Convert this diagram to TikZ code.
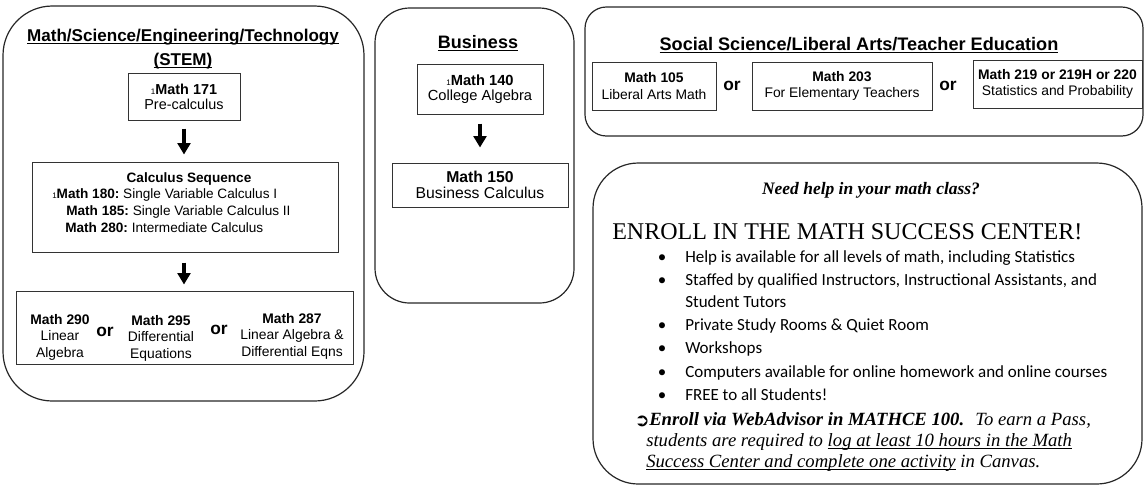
\documentclass[tikz,border=0pt]{standalone}
\usepackage{fontspec}
\setmainfont{Liberation Sans}
\newfontfamily\tnr{Liberation Serif}
\newfontfamily\calib{Carlito}
\newfontfamily\djv{DejaVu Sans}
\usetikzlibrary{arrows.meta}
\frenchspacing
\newcommand\fsz[2]{\fontsize{#1pt}{#2pt}\selectfont}
\newcommand\myul[1]{\setbox0\hbox{#1}\rlap{\rule[-2pt]{\wd0}{0.85pt}}\box0\relax}
\newcommand\myult[1]{\setbox0\hbox{#1}\rlap{\rule[-1.9pt]{\wd0}{0.6pt}}\box0\relax}
\newcommand\fnm{{\fsz{6}{6}1}}
\tikzset{
  panel/.style={draw=black!85, line width=0.9pt},
  cbox/.style={draw=black!80, line width=0.75pt, inner sep=0pt, align=center},
  bigarrow/.style={-{Triangle[length=8.5pt,width=9.5pt]}, line width=2.3pt, black},
  ortext/.style={font=\fsz{13}{13}\bfseries, inner sep=0pt},
  ttl/.style={font=\fsz{12.8}{15}\bfseries, inner sep=0pt, anchor=base},
  txt/.style={inner sep=0pt, anchor=base west},
  col/.style={inner sep=0pt, align=center, font=\fsz{10.4}{12.4}},
  bul/.style={inner sep=0pt, anchor=base, font=\calib\fsz{12.75}{14}},
  btxt/.style={inner sep=0pt, anchor=base west, font=\calib\fsz{12.75}{14}},
  par/.style={inner sep=0pt, anchor=base west, font=\tnr\fsz{14}{15}\itshape},
}
\begin{document}
\begin{tikzpicture}[x=0.75pt,y=-0.75pt]
\useasboundingbox (0,0) rectangle (1144,487);

% ---------- STEM panel ----------
\draw[panel, rounded corners=37pt] (3,6) rectangle (364,401);
\node[ttl] (stemA) at (183,41) {\myul{Math/Science/Engineering/Technology}};
\node[ttl] (stemB) at (183,65) {\myul{(STEM)}};
\node[cbox, minimum width=84pt, minimum height=35.25pt, font=\fsz{10.8}{11.25}] (m171) at (184,96.5) {\fnm\textbf{Math 171}\\Pre-calculus};
\node[cbox, minimum width=229.5pt, minimum height=67.5pt] (calc) at (185,207) {};
\node[inner sep=0pt, anchor=base, font=\fsz{10.2}{12}\bfseries] (cs) at (189,182) {Calculus Sequence};
\node[txt, font=\fsz{10.2}{12}] (c180) at (52,198) {\fnm\textbf{Math 180:} Single Variable Calculus I};
\node[txt, font=\fsz{10.2}{12}] (c185) at (66,215) {\textbf{Math 185:} Single Variable Calculus II};
\node[txt, font=\fsz{10.2}{12}] (c280) at (65,232) {\textbf{Math 280:} Intermediate Calculus};
\node[cbox, minimum width=252.75pt, minimum height=54.75pt] (adv) at (184.5,327.5) {};
\node[col] (c290) at (60,337) {\textbf{Math 290}\\Linear\\Algebra};
\node[ortext] (or1) at (105,332) {or};
\node[col] (c295) at (161,338) {\textbf{Math 295}\\Differential\\Equations};
\node[ortext] (or2) at (219,330) {or};
\node[col] (c287) at (292,336) {\textbf{Math 287}\\Linear Algebra \&\\Differential Eqns};
\draw[bigarrow, shorten <=6pt, shorten >=5.25pt] (m171.south) -- (m171.south |- calc.north);
\draw[bigarrow, shorten <=7.5pt, shorten >=4.5pt] (calc.south -| m171.south) -- (m171.south |- adv.north);

% ---------- Business panel ----------
\draw[panel, rounded corners=26pt] (375,8) rectangle (574,303);
\node[ttl, font=\fsz{13.5}{15}\bfseries] (bus) at (478,48) {\myul{Business}};
\node[cbox, minimum width=94.5pt, minimum height=37.5pt, font=\fsz{11}{11.25}] (m140) at (480,89) {\fnm\textbf{Math 140}\\College Algebra};
\node[cbox, minimum width=132pt, minimum height=33pt, font=\fsz{11.8}{11.5}] (m150) at (480,185) {\textbf{Math 150}\\Business Calculus};
\draw[bigarrow, shorten <=6.75pt, shorten >=11.25pt] (m140) -- (m150);

% ---------- Social Science panel ----------
\draw[panel, rounded corners=16pt] (585,7) rectangle (1143,136);
\node[ttl, font=\fsz{13.6}{15}\bfseries] (soc) at (859,50) {\myul{Social Science/Liberal Arts/Teacher Education}};
\node[cbox, minimum width=93pt, minimum height=36pt, font=\fsz{10.4}{12.6}] (m105) at (654,86) {\textbf{Math 105}\\Liberal Arts Math};
\node[ortext] (or3) at (732,86) {or};
\node[cbox, minimum width=135pt, minimum height=36pt, font=\fsz{10.4}{12.6}] (m203) at (842,86) {\textbf{Math 203}\\For Elementary Teachers};
\node[ortext] (or4) at (948,86) {or};
\node[cbox, minimum width=126.75pt, minimum height=36pt, font=\fsz{10.4}{12.6}] (m219) at (1057.5,84) {\textbf{Math 219 or 219H or 220}\\Statistics and Probability};

% ---------- Math Success Center panel ----------
\draw[panel, rounded corners=34pt] (593,163) rectangle (1142,484);
\node[inner sep=0pt, anchor=base, font=\tnr\fsz{13.1}{14}\bfseries\itshape] (need) at (871,194) {Need help in your math class?};
\node[inner sep=0pt, anchor=base west, font=\tnr\fsz{18}{20}] (enr) at (612,239) {ENROLL IN THE MATH SUCCESS CENTER!};
\node[bul] (b1) at (662,262) {•};
\node[btxt] (t1) at (685,262) {Help is available for all levels of math, including Statistics};
\node[bul] (b2) at (662,285) {•};
\node[btxt] (t2) at (685,285) {Staffed by qualified Instructors, Instructional Assistants, and};
\node[btxt] (t2b) at (685,307) {Student Tutors};
\node[bul] (b3) at (662,330) {•};
\node[btxt] (t3) at (685,330) {Private Study Rooms \& Quiet Room};
\node[bul] (b4) at (662,353) {•};
\node[btxt] (t4) at (685,353) {Workshops};
\node[bul] (b5) at (662,377) {•};
\node[btxt] (t5) at (685,377) {Computers available for online homework and online courses};
\node[bul] (b6) at (662,400) {•};
\node[btxt] (t6) at (685,400) {FREE to all Students!};
\node[inner sep=0pt, anchor=base east, font=\djv\bfseries\fsz{13.5}{14}] (arr) at (650,426) {➲};
\node[par] (p1) at (649,425) {{\bfseries Enroll via WebAdvisor in MATHCE 100.}\hspace{0.6em}To earn a Pass,};
\node[par] (p2) at (646,446) {students are required to \myult{log at least 10 hours in the Math}};
\node[par] (p3) at (646,467) {\myult{Success Center and complete one activity} in Canvas.};
\end{tikzpicture}
\end{document}
